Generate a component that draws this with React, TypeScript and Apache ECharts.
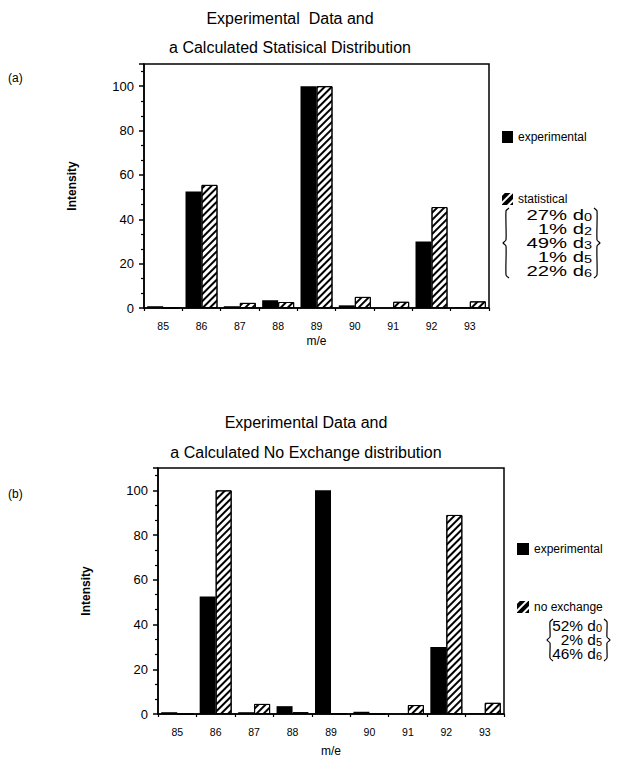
import React, { useEffect, useRef } from 'react';
import * as echarts from 'echarts';

const categories = ['85', '86', '87', '88', '89', '90', '91', '92', '93'];
const experimentalA = [0.8, 52.5, 0.8, 3.5, 100, 1.2, 0, 30, 0.3];
const statistical = [0, 55.5, 2.3, 2.7, 100, 5, 2.8, 45.5, 3];
const experimentalB = [0.8, 52.5, 0.8, 3.5, 100, 1, 0, 30, 0.3];
const noExchange = [0, 100, 4.5, 0.8, 0.3, 0, 4, 89, 5];
const yMax = 110;
const yInterval = 20;
const statLines = [
  ['27%', '0'],
  ['1%', '2'],
  ['49%', '3'],
  ['1%', '5'],
  ['22%', '6'],
];
const noExLines = [
  ['52%', '0'],
  ['2%', '5'],
  ['46%', '6'],
];

const FONT = '"Liberation Sans", Arial, Helvetica, sans-serif';

const hatch = {
  symbol: 'rect',
  symbolSize: 1,
  dashArrayX: [1, 0],
  dashArrayY: [2, 2.5],
  rotation: -Math.PI / 4,
  color: '#000',
  backgroundColor: '#fff',
};
const hatchIcon = {
  symbol: 'rect',
  symbolSize: 1,
  dashArrayX: [1, 0],
  dashArrayY: [1.2, 3.5],
  rotation: -Math.PI / 4,
  color: '#fff',
  backgroundColor: '#000',
};

function braceLeft(x: number, top: number, bottom: number) {
  const mid = (top + bottom) / 2;
  return [
    [x + 4, top],
    [x + 1, top + 3],
    [x + 1, mid - 3],
    [x - 2, mid],
    [x + 1, mid + 3],
    [x + 1, bottom - 3],
    [x + 4, bottom],
  ];
}
function braceRight(x: number, top: number, bottom: number) {
  const mid = (top + bottom) / 2;
  return [
    [x - 4, top],
    [x - 1, top + 3],
    [x - 1, mid - 3],
    [x + 2, mid],
    [x - 1, mid + 3],
    [x - 1, bottom - 3],
    [x - 4, bottom],
  ];
}

function richBlock(lines: string[][]) {
  return lines.map(([p, s]) => `{m|${p} d}{s|${s}}`).join('\n');
}

const blockRich = {
  m: { fontFamily: FONT, fontSize: 14, lineHeight: 14, fill: '#000' },
  s: { fontFamily: FONT, fontSize: 10, lineHeight: 14, padding: [5, 0, 0, 0], fill: '#000' },
};

function yAxisFor(gridIndex: number) {
  return {
    type: 'value',
    gridIndex,
    min: 0,
    max: yMax,
    interval: yInterval,
    name: 'Intensity',
    nameLocation: 'middle',
    nameGap: 66,
    nameTextStyle: { fontFamily: FONT, fontWeight: 'bold', fontSize: 12, color: '#000' },
    axisLine: { show: true, lineStyle: { color: '#000', width: 1.5 } },
    axisTick: { show: true, length: 5, lineStyle: { color: '#000', width: 1.5 } },
    minorTick: { show: true, splitNumber: 3, length: 3, lineStyle: { color: '#000', width: 1.2 } },
    splitLine: { show: false },
    axisLabel: {
      fontFamily: FONT,
      fontSize: 13,
      color: '#000',
      margin: 10,
      formatter: (v: number) => (v % yInterval === 0 ? String(v) : ''),
    },
  };
}

function xAxisFor(gridIndex: number, nameGap: number) {
  return {
    type: 'category',
    gridIndex,
    data: categories,
    name: 'm/e',
    nameLocation: 'middle',
    nameGap,
    nameTextStyle: { fontFamily: FONT, fontSize: 12, color: '#000' },
    axisLine: { show: true, lineStyle: { color: '#000', width: 1.5 } },
    axisTick: { show: true, length: 3, interval: 0, lineStyle: { color: '#000', width: 1.2 } },
    axisLabel: { fontFamily: FONT, fontSize: 10.5, color: '#000', margin: 12, interval: 0 },
    splitLine: { show: false },
  };
}

const option: any = {
  animation: false,
  backgroundColor: '#fff',
  grid: [
    { left: 144, top: 64, width: 345, height: 244, show: true, borderColor: '#000', borderWidth: 1.5, backgroundColor: 'transparent' },
    { left: 158, top: 468, width: 346, height: 246, show: true, borderColor: '#000', borderWidth: 1.5, backgroundColor: 'transparent' },
  ],
  xAxis: [xAxisFor(0, 27), xAxisFor(1, 31)],
  yAxis: [yAxisFor(0), yAxisFor(1)],
  legend: [
    {
      left: 502,
      top: 131,
      orient: 'vertical',
      itemWidth: 11,
      itemHeight: 12,
      itemGap: 50,
      padding: 0,
      selectedMode: false,
      textStyle: { fontFamily: FONT, fontSize: 12, color: '#000' },
      data: [
        { name: 'experimental', icon: 'rect' },
        { name: 'statistical', icon: 'rect', itemStyle: { color: '#000', borderColor: '#000', borderWidth: 0, decal: hatchIcon } },
      ],
    },
    {
      left: 517,
      top: 543,
      orient: 'vertical',
      itemWidth: 12,
      itemHeight: 12,
      itemGap: 46,
      padding: 0,
      selectedMode: false,
      textStyle: { fontFamily: FONT, fontSize: 12, color: '#000' },
      data: [
        { name: 'experimental', icon: 'rect' },
        { name: 'no exchange', icon: 'rect', itemStyle: { color: '#000', borderColor: '#000', borderWidth: 0, decal: hatchIcon } },
      ],
    },
  ],
  series: [
    {
      name: 'experimental',
      type: 'bar',
      xAxisIndex: 0,
      yAxisIndex: 0,
      data: experimentalA,
      barWidth: 16,
      barGap: '0%',
      itemStyle: { color: '#000' },
    },
    {
      name: 'statistical',
      type: 'bar',
      xAxisIndex: 0,
      yAxisIndex: 0,
      data: statistical,
      barWidth: 16,
      barGap: '0%',
      itemStyle: { color: '#fff', borderColor: '#000', borderWidth: 1, decal: hatch },
    },
    {
      name: 'experimental',
      type: 'bar',
      xAxisIndex: 1,
      yAxisIndex: 1,
      data: experimentalB,
      barWidth: 16,
      barGap: '0%',
      itemStyle: { color: '#000' },
    },
    {
      name: 'no exchange',
      type: 'bar',
      xAxisIndex: 1,
      yAxisIndex: 1,
      data: noExchange,
      barWidth: 16,
      barGap: '0%',
      itemStyle: { color: '#fff', borderColor: '#000', borderWidth: 1, decal: hatch },
    },
  ],
  graphic: [
    { type: 'text', x: 290, y: 18, style: { text: 'Experimental  Data and', font: `16px ${FONT}`, fill: '#000', textAlign: 'center', textVerticalAlign: 'middle' } },
    { type: 'text', x: 290, y: 47, style: { text: 'a Calculated Statisical Distribution', font: `16px ${FONT}`, fill: '#000', textAlign: 'center', textVerticalAlign: 'middle' } },
    { type: 'text', x: 8, y: 78, style: { text: '(a)', font: `12px ${FONT}`, fill: '#000', textVerticalAlign: 'middle' } },
    { type: 'text', x: 306, y: 422, style: { text: 'Experimental Data and', font: `16px ${FONT}`, fill: '#000', textAlign: 'center', textVerticalAlign: 'middle' } },
    { type: 'text', x: 306, y: 452, style: { text: 'a Calculated No Exchange distribution', font: `16px ${FONT}`, fill: '#000', textAlign: 'center', textVerticalAlign: 'middle' } },
    { type: 'text', x: 8, y: 494, style: { text: '(b)', font: `12px ${FONT}`, fill: '#000', textVerticalAlign: 'middle' } },
    {
      type: 'text',
      x: 592,
      y: 208,
      scaleX: 1.45,
      style: { text: richBlock(statLines), textAlign: 'right', fill: '#000', rich: blockRich },
    },
    { type: 'polyline', shape: { points: braceLeft(505, 208, 278), smooth: 0.2 }, style: { stroke: '#000', lineWidth: 1.2, fill: 'none' } },
    { type: 'polyline', shape: { points: braceRight(598, 208, 278), smooth: 0.2 }, style: { stroke: '#000', lineWidth: 1.2, fill: 'none' } },
    {
      type: 'text',
      x: 602,
      y: 619,
      scaleX: 1.1,
      style: { text: richBlock(noExLines), textAlign: 'right', fill: '#000', rich: blockRich },
    },
    { type: 'polyline', shape: { points: braceLeft(549, 619, 661), smooth: 0.2 }, style: { stroke: '#000', lineWidth: 1.2, fill: 'none' } },
    { type: 'polyline', shape: { points: braceRight(608, 619, 661), smooth: 0.2 }, style: { stroke: '#000', lineWidth: 1.2, fill: 'none' } },
  ],
};

export default function App() {
  const ref = useRef<HTMLDivElement>(null);
  useEffect(() => {
    document.body.style.margin = '0';
    const chart = echarts.init(ref.current as HTMLDivElement, null, { renderer: 'svg' });
    chart.setOption(option);
    return () => chart.dispose();
  }, []);
  return <div ref={ref} style={{ width: 635, height: 766 }} />;
}
